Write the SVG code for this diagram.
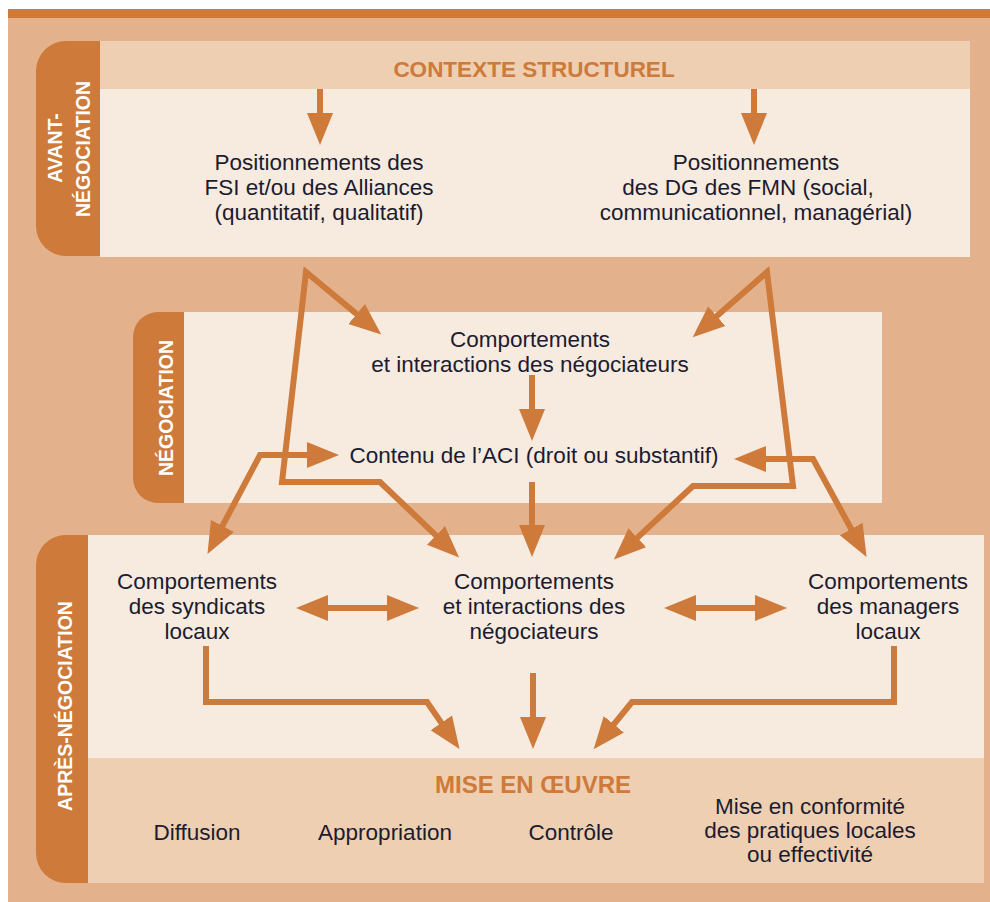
<svg xmlns="http://www.w3.org/2000/svg" width="990" height="902" viewBox="0 0 990 902">
<style>
.bg{fill:#E3B28C}
.light{fill:#F7EADF}
.band{fill:#EECFB2}
.tab{fill:#CD7A3A}
.t{font-family:"Liberation Sans",Arial,sans-serif;font-size:22.5px;fill:#1c1c30;text-anchor:middle}
.h{font-family:"Liberation Sans",Arial,sans-serif;font-weight:bold;fill:#CD7A3A;text-anchor:middle}
.v{font-family:"Liberation Sans",Arial,sans-serif;font-weight:bold;font-size:19.5px;fill:#ffffff;text-anchor:middle}
.c{fill:none;stroke:#CD7A3A;stroke-width:6;stroke-linejoin:miter}
</style>
<defs>
<marker id="ah" markerUnits="userSpaceOnUse" markerWidth="34" markerHeight="28" viewBox="0 -14 34 28" refX="1" refY="0" orient="auto-start-reverse">
<path d="M0,-13 L32,0 L0,13 Z" fill="#CD7A3A"/>
</marker>
</defs>
<rect x="0" y="0" width="990" height="902" fill="#ffffff"/>
<rect x="8" y="9" width="982" height="893" class="bg"/>
<rect x="8" y="9" width="982" height="9" class="tab"/>

<g id="avant">
<rect x="100" y="41" width="870" height="48" class="band"/>
<rect x="100" y="89" width="870" height="168" class="light"/>
<path d="M100,41 H66 A30,30 0 0 0 36,71 V226 A30,30 0 0 0 66,256 H100 Z" class="tab"/>
<text class="v" transform="translate(62,148) rotate(-90)">AVANT-</text>
<text class="v" transform="translate(90,149) rotate(-90)">NÉGOCIATION</text>
<text class="h" x="534" y="77" font-size="22.5">CONTEXTE STRUCTUREL</text>
</g>
<g id="pos-fsi">
<text class="t" x="319" y="170">Positionnements des</text>
<text class="t" x="319" y="195">FSI et/ou des Alliances</text>
<text class="t" x="319" y="220">(quantitatif, qualitatif)</text>
</g>
<g id="pos-dg">
<text class="t" x="756" y="170">Positionnements</text>
<text class="t" x="748" y="195">des DG des FMN (social,</text>
<text class="t" x="756" y="220">communicationnel, managérial)</text>
</g>

<g id="negociation">
<rect x="184" y="312" width="698" height="191" class="light"/>
<path d="M184,312 H158 A25,25 0 0 0 133,337 V478 A25,25 0 0 0 158,503 H184 Z" class="tab"/>
<text class="v" transform="translate(173,408) rotate(-90)">NÉGOCIATION</text>
</g>
<g id="comp-neg">
<text class="t" x="530" y="347">Comportements</text>
<text class="t" x="530" y="372">et interactions des négociateurs</text>
</g>
<g id="contenu">
<text class="t" x="534" y="463">Contenu de l’ACI (droit ou substantif)</text>
</g>

<g id="apres">
<rect x="88" y="535" width="896" height="223" class="light"/>
<rect x="88" y="758" width="896" height="125" class="band"/>
<path d="M88,535 H66 A30,30 0 0 0 36,565 V853 A30,30 0 0 0 66,883 H88 Z" class="tab"/>
<text class="v" transform="translate(72,706) rotate(-90)">APRÈS-NÉGOCIATION</text>
</g>
<g id="syndicats">
<text class="t" x="197" y="589">Comportements</text>
<text class="t" x="197" y="614">des syndicats</text>
<text class="t" x="197" y="639">locaux</text>
</g>
<g id="comp-apres">
<text class="t" x="534" y="589">Comportements</text>
<text class="t" x="534" y="614">et interactions des</text>
<text class="t" x="534" y="639">négociateurs</text>
</g>
<g id="managers">
<text class="t" x="888" y="589">Comportements</text>
<text class="t" x="888" y="614">des managers</text>
<text class="t" x="888" y="639">locaux</text>
</g>
<g id="mise">
<text class="h" x="533" y="793" font-size="24">MISE EN ŒUVRE</text>
<text class="t" x="197" y="840">Diffusion</text>
<text class="t" x="385" y="840">Appropriation</text>
<text class="t" x="571" y="840">Contrôle</text>
<text class="t" x="810" y="814">Mise en conformité</text>
<text class="t" x="810" y="838">des pratiques locales</text>
<text class="t" x="810" y="862">ou effectivité</text>
</g>

<g id="connectors">
<path class="c" stroke-width="7" d="M320,89 V114" marker-end="url(#ah)"/>
<path class="c" stroke-width="7" d="M754,89 V114" marker-end="url(#ah)"/>
<path class="c" d="M357.4,314.6 L306,272 L282,482 L380,482 L436.7,536.1" marker-start="url(#ah)" marker-end="url(#ah)"/>
<path class="c" d="M716,316.8 L767,272 L793,486 L693,486 L636.6,538.4" marker-start="url(#ah)" marker-end="url(#ah)"/>
<path class="c" d="M222,526.7 L260,455 L308,455" marker-start="url(#ah)" marker-end="url(#ah)"/>
<path class="c" d="M765,459 L813,459 L851.7,529.9" marker-start="url(#ah)" marker-end="url(#ah)"/>
<path class="c" stroke-width="5" d="M532,375 V410" marker-end="url(#ah)"/>
<path class="c" stroke-width="9" d="M532,482 V526" marker-end="url(#ah)"/>
<path class="c" stroke-width="7" d="M327,608 H388" marker-start="url(#ah)" marker-end="url(#ah)"/>
<path class="c" stroke-width="7" d="M695,608 H756" marker-start="url(#ah)" marker-end="url(#ah)"/>
<path class="c" d="M206,646 V702 H427 L441.9,723.6" marker-end="url(#ah)"/>
<path class="c" stroke-width="7" d="M533,673 V718" marker-end="url(#ah)"/>
<path class="c" d="M894,646 V702 H632 L613.2,725.1" marker-end="url(#ah)"/>
</g>
</svg>
